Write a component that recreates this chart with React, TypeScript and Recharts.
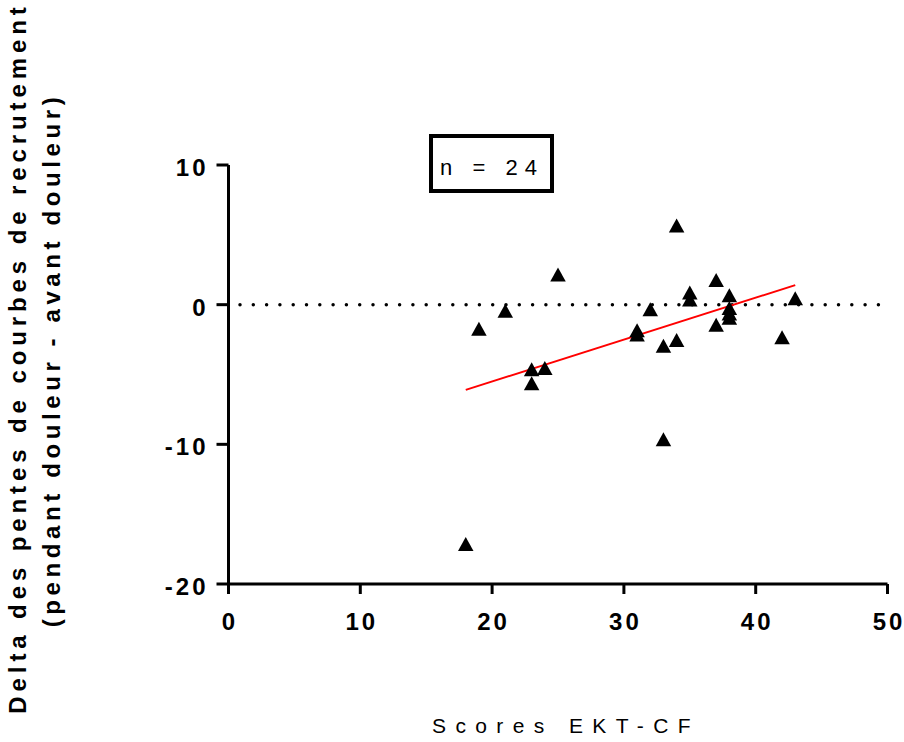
import React from 'react';
import { ScatterChart, Scatter, XAxis, YAxis, ReferenceLine, Customized } from 'recharts';

// Scores EKT-CF (x) vs delta des pentes (y)
const scores = [18, 19, 21, 23, 23, 24, 25, 31, 31, 32, 33, 33, 34, 34, 35, 35, 37, 37, 38, 38, 38, 38, 42, 43];
const deltas = [-17.3, -1.9, -0.6, -4.8, -5.8, -4.7, 2.0, -2.0, -2.3, -0.5, -3.1, -9.8, 5.5, -2.7, 0.7, 0.2, 1.6, -1.6, 0.5, -0.4, -0.8, -1.1, -2.5, 0.3];

// droite de régression (extrémités)
const fitX = [18, 43];
const fitY = [-6.1, 1.4];

const xTicks = [0, 10, 20, 30, 40, 50];
const yTicks = [-20, -10, 0, 10];

const points = scores.map((x, i) => ({ x, y: deltas[i] }));
const fitLine = fitX.map((x, i) => ({ x, y: fitY[i] }));

const FONT = '"Liberation Sans", Arial, Helvetica, sans-serif';

const XTick = (props: any) => {
    const { x, y, payload } = props;
    return (
        <text x={x + 1.5} y={y} dy={32} textAnchor="middle" fontFamily={FONT} fontSize={24} fontWeight="bold" letterSpacing={3} fill="#000">
            {payload.value}
        </text>
    );
};

const YTick = (props: any) => {
    const { x, y, payload } = props;
    return (
        <text x={x} y={y} dy={11} textAnchor="end" fontFamily={FONT} fontSize={24} fontWeight="bold" letterSpacing={3} fill="#000">
            {payload.value}
        </text>
    );
};

// triangle plein, centré sur le point
const Triangle = (props: any) => {
    const { cx, cy } = props;
    const w = 15.5;
    const h = 14;
    return (
        <polygon
            points={`${cx},${cy - (2 * h) / 3} ${cx - w / 2},${cy + h / 3} ${cx + w / 2},${cy + h / 3}`}
            fill="#000"
        />
    );
};

const Annotations = () => (
    <g>
        <text transform="translate(26,358) rotate(-90)" textAnchor="middle" fontFamily={FONT} fontSize={24} fontWeight="bold" letterSpacing={4.9} fill="#000">
            Delta des pentes de courbes de recrutement
        </text>
        <text transform="translate(60,360) rotate(-90)" textAnchor="middle" fontFamily={FONT} fontSize={24} fontWeight="bold" letterSpacing={4.6} fill="#000">
            (pendant douleur - avant douleur)
        </text>
        <text x={566} y={733} textAnchor="middle" fontFamily={FONT} fontSize={21} letterSpacing={9.4} fill="#000">
            Scores EKT-CF
        </text>
        <rect x={431} y={136} width={121} height={55} fill="#fff" stroke="#000" strokeWidth={4} />
        <text x={492} y={175} textAnchor="middle" fontFamily={FONT} fontSize={22} letterSpacing={7} fill="#000">
            n = 24
        </text>
    </g>
);

export default function App() {
    return (
        <div style={{ position: 'absolute', left: 0, top: 0, background: '#fff' }}>
            <ScatterChart width={904} height={742} margin={{ top: 165, right: 16.5, bottom: 98, left: 148.5 }}>
                <XAxis
                    type="number"
                    dataKey="x"
                    domain={[0, 50]}
                    ticks={xTicks}
                    height={60}
                    tickSize={10}
                    tickMargin={4}
                    tick={<XTick />}
                    axisLine={{ stroke: '#000', strokeWidth: 3 }}
                    tickLine={{ stroke: '#000', strokeWidth: 3 }}
                />
                <YAxis
                    type="number"
                    dataKey="y"
                    domain={[-20, 10]}
                    ticks={yTicks}
                    width={80}
                    tickSize={12}
                    tickMargin={8}
                    tick={<YTick />}
                    axisLine={{ stroke: '#000', strokeWidth: 3 }}
                    tickLine={{ stroke: '#000', strokeWidth: 3 }}
                />
                <ReferenceLine y={0} stroke="#000" strokeWidth={3.5} strokeDasharray="0 13.3" strokeDashoffset={1.8} strokeLinecap="round" />
                <ReferenceLine segment={fitLine} stroke="#ff0000" strokeWidth={2} />
                <Scatter data={points} shape={<Triangle />} fill="#000" isAnimationActive={false} />
                <Customized component={<Annotations />} />
            </ScatterChart>
        </div>
    );
}
